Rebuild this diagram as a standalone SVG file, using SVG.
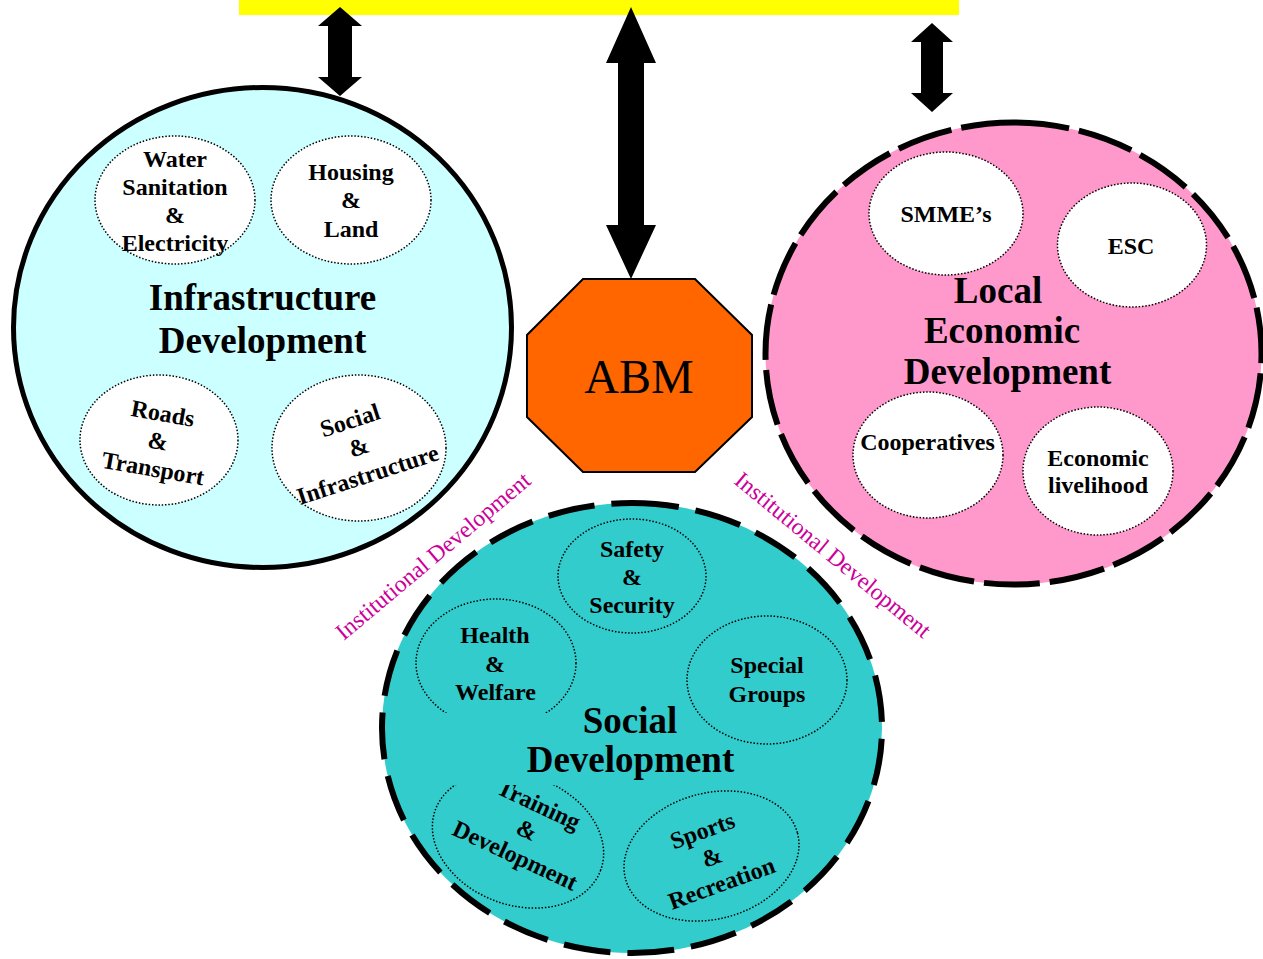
<svg xmlns="http://www.w3.org/2000/svg" width="1263" height="959" viewBox="0 0 1263 959">
<style>
.t{font-family:"Liberation Serif","Times New Roman",serif;font-weight:bold;font-size:24px;fill:#000;text-anchor:middle}
.big{font-family:"Liberation Serif","Times New Roman",serif;font-weight:bold;font-size:37px;fill:#000;text-anchor:middle}
.inst{font-family:"Liberation Serif","Times New Roman",serif;font-size:23.5px;fill:#CC0099;text-anchor:middle}
.sub{stroke:#000;stroke-width:1.5;stroke-dasharray:1.5 1.8}
.arrow{fill:#000}
</style>
<rect width="1263" height="959" fill="#fff"/>

<g id="top-bar">
<rect x="239" y="0" width="720" height="15" fill="#FFFF00"/>
</g>

<g id="connectors">
<polygon class="arrow" points="340,7 362,26 352,26 352,77 362,77 340,96 318,77 328,77 328,26 318,26"/>
<polygon class="arrow" points="631,7 656,63 644,63 644,225 656,225 631,279 606,225 618,225 618,63 606,63"/>
<polygon class="arrow" points="932,23 953,42 943,42 943,93 953,93 932,112 911,93 921,93 921,42 911,42"/>
</g>

<g id="infrastructure">
<ellipse cx="262.5" cy="327.5" rx="249" ry="240" fill="#CCFFFF" stroke="#000" stroke-width="5"/>
<g id="water">
<ellipse class="sub" cx="175" cy="200" rx="80" ry="64" fill="#fff"/>
<text class="t" x="175" y="167">Water</text>
<text class="t" x="175" y="194.5">Sanitation</text>
<text class="t" x="175" y="222.5">&amp;</text>
<text class="t" x="175" y="251">Electricity</text>
</g>
<g id="housing">
<ellipse class="sub" cx="351" cy="200" rx="80" ry="64" fill="#fff"/>
<text class="t" x="351" y="180">Housing</text>
<text class="t" x="351" y="208">&amp;</text>
<text class="t" x="351" y="237">Land</text>
</g>
<text class="big" x="262.5" y="310">Infrastructure</text>
<text class="big" x="262.5" y="353">Development</text>
<g id="roads">
<ellipse class="sub" cx="159" cy="440" rx="79" ry="65" fill="#fff"/>
<g transform="rotate(10 158 441)">
<text class="t" x="158" y="421">Roads</text>
<text class="t" x="158" y="449">&amp;</text>
<text class="t" x="158" y="477">Transport</text>
</g>
</g>
<g id="social-infrastructure">
<ellipse class="sub" cx="359" cy="448" rx="87" ry="73" fill="#fff"/>
<g transform="rotate(-18 359 448)">
<text class="t" x="359" y="427">Social</text>
<text class="t" x="359" y="455">&amp;</text>
<text class="t" x="359" y="484">Infrastructure</text>
</g>
</g>
</g>

<g id="abm">
<polygon points="583,279 695,279 752,335 752,417 695,472 583,472 527,417 527,335" fill="#FF6600" stroke="#000" stroke-width="2"/>
<text x="639" y="393" font-family="Liberation Serif,'Times New Roman',serif" font-size="48" text-anchor="middle" fill="#000">ABM</text>
</g>

<g id="local-economic">
<path d="M1013.5,122.5 A248,231 0 1,1 1013.5,584.5 A248,231 0 1,1 1013.5,122.5 Z" fill="#FF99CC" stroke="#000" stroke-width="6" stroke-dasharray="56 10"/>
<g id="smme">
<ellipse class="sub" cx="946" cy="213.5" rx="77" ry="61.5" fill="#fff"/>
<text class="t" x="946" y="222">SMME’s</text>
</g>
<g id="esc">
<ellipse class="sub" cx="1132" cy="245" rx="74.5" ry="62" fill="#fff"/>
<text class="t" x="1131" y="254">ESC</text>
</g>
<text class="big" x="998" y="303">Local</text>
<text class="big" x="1002" y="343">Economic</text>
<text class="big" x="1007.5" y="384">Development</text>
<g id="cooperatives">
<ellipse class="sub" cx="928" cy="455" rx="75" ry="63" fill="#fff"/>
<text class="t" x="927.5" y="450">Cooperatives</text>
</g>
<g id="livelihood">
<ellipse class="sub" cx="1098" cy="471" rx="75" ry="64" fill="#fff"/>
<text class="t" x="1098" y="466">Economic</text>
<text class="t" x="1098" y="493">livelihood</text>
</g>
</g>

<g id="social-development">
<path d="M632,503 A250,225 0 1,1 632,953 A250,225 0 1,1 632,503 Z" fill="#33CCCC" stroke="#000" stroke-width="6" stroke-dasharray="47 17"/>
<g id="safety">
<ellipse class="sub" cx="632" cy="576" rx="74" ry="57" fill="none"/>
<text class="t" x="632" y="557">Safety</text>
<text class="t" x="632" y="585">&amp;</text>
<text class="t" x="632" y="613">Security</text>
</g>
<g id="health">
<ellipse class="sub" cx="496" cy="663" rx="80" ry="64" fill="none"/>
<text class="t" x="495" y="643">Health</text>
<text class="t" x="495" y="672">&amp;</text>
<text class="t" x="495.5" y="700">Welfare</text>
</g>
<g id="special">
<ellipse class="sub" cx="767" cy="680" rx="80" ry="64" fill="none"/>
<text class="t" x="767" y="673">Special</text>
<text class="t" x="767" y="702">Groups</text>
</g>
<g id="training">
<ellipse class="sub" cx="518" cy="840" rx="88" ry="65" fill="none" transform="rotate(20 518 840)"/>
<g transform="rotate(25 527 830)">
<text class="t" x="527" y="810">Training</text>
<text class="t" x="527" y="838">&amp;</text>
<text class="t" x="527" y="866">Development</text>
</g>
</g>
<g id="sports">
<ellipse class="sub" cx="711.5" cy="856" rx="89" ry="63" fill="none" transform="rotate(-15 711.5 856)"/>
<g transform="rotate(-20 712 857)">
<text class="t" x="712" y="837">Sports</text>
<text class="t" x="712" y="865">&amp;</text>
<text class="t" x="712" y="893">Recreation</text>
</g>
</g>
<rect x="430" y="713" width="250" height="72" fill="#33CCCC"/>
<text class="big" x="630" y="733">Social</text>
<text class="big" x="630.5" y="772">Development</text>
</g>

<g id="institutional-labels">
<text class="inst" transform="translate(438 562) rotate(-40)">Institutional Development</text>
<text class="inst" transform="translate(828 561) rotate(39.5)">Institutional Development</text>
</g>
</svg>
